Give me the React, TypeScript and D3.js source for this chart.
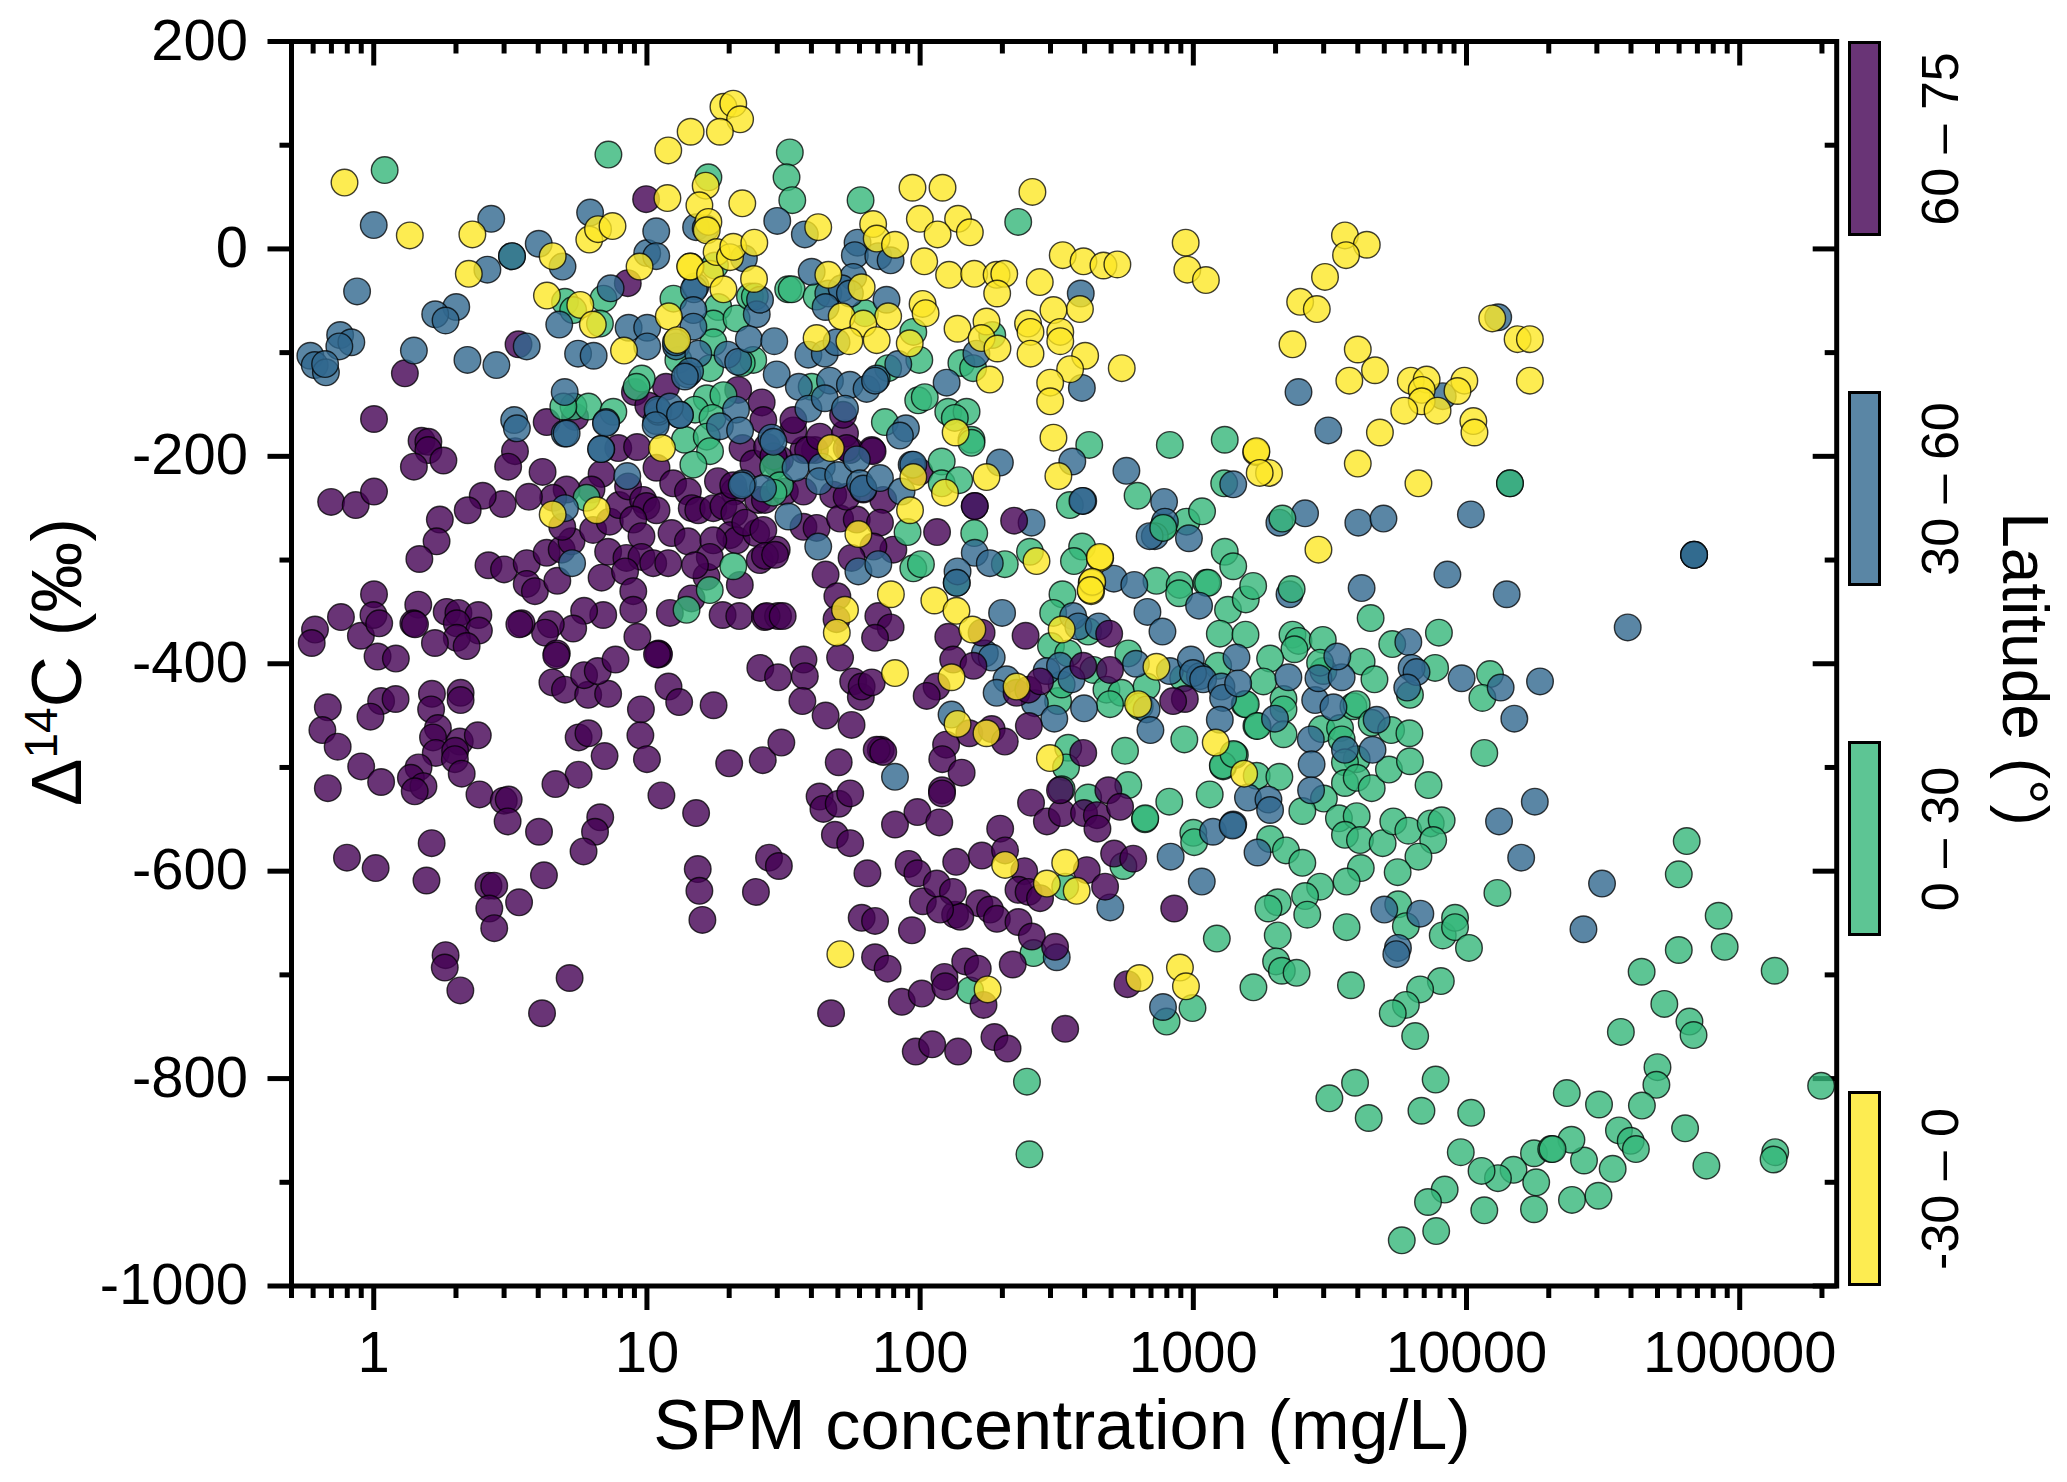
import React from "react";
import * as d3 from "d3";

// Every point: [log10 of SPM concentration (mg/L), Δ14C (‰)]
type P = [number, number];

const purpleWest: P[] = [
[.114,-120],[.53,-92],[.001,-164],[.175,-185],[.2,-186],[.2,-194],[.147,-210],[.255,-204],[-.156,-244],[-.066,-247],[.001,-234],[.242,-261],[.23,-282],[.167,-299],
[.42,-305],[.477,-309],[.56,-303],[.633,-293],[.688,-290],[.724,-282],[.56,-323],[.59,-330],[.672,-320],[.517,-195],[.492,-210],[.618,-215],[.633,-167],[.737,-162],
[1.07,-133],[.956,-138],[.93,-33],[.997,48],[1.005,-151],[1.334,-136],[1.42,-148],[1.426,-165],[.895,-192],[.964,-191],[1.035,-211],[1.096,-226],[1.15,-234],[1.26,-224],[1.32,-234],[1.35,-192],[1.39,-207],[1.44,-191],[1.475,-207],
[.834,-217],[.797,-232],[.706,-232],[.657,-240],[.568,-239],[.472,-246],[.399,-238],[.344,-252],[.69,-268],[.803,-271],[.864,-263],[.898,-247],[.931,-229],[.986,-242],[.998,-248],[1.035,-252],[.95,-261],
[.98,-277],[.858,-292],[.925,-298],[.98,-297],[1.023,-303],[1.078,-303],[.834,-317],[.92,-311],[.95,-330],[.95,-348],[1.09,-274],[1.15,-282],[1.164,-250],[1.188,-252],[1.243,-250],[1.28,-248],[1.32,-255],[1.304,-276],[1.328,-281],[1.4,-274],[1.243,-281],[1.36,-264],[1.413,-300],[1.475,-290],[1.218,-316],[1.23,-297],[1.176,-305],[1.34,-324],[1.163,-337],[1.407,-242],
[1.084,-351],[1.277,-353],[1.338,-354],[1.432,-355],[1.48,-354],[.84,-353],[.77,-349],[.73,-366],[.648,-362],[.627,-370],[.541,-361],[.533,-362],[.965,-374],[1.042,-390],[.67,-390],
[-.215,-367],[-.227,-380],[-.12,-355],[-.047,-373],[.001,-333],[-.001,-353],[.02,-361],[.163,-343],[.145,-361],[.151,-362],[.267,-350],[.31,-351],[.383,-353],[.304,-361],[.385,-368],[.304,-375],[.224,-380],[.34,-383],
[.014,-393],[.081,-395],[-.168,-442],[-.188,-464],[-.132,-480],[-.046,-499],[.027,-514],[-.168,-520],[.027,-436],[.08,-434],[-.012,-451],[.213,-429],[.21,-444],[.318,-428],[.318,-435],
[.235,-462],[.217,-471],[.227,-486],[.315,-475],[.381,-469],[.298,-484],[.297,-492],[.322,-506],[.164,-500],[.136,-510],[.182,-518],[.15,-523],[.387,-526],[.476,-532],[.494,-531],[.49,-552],[.605,-562],
[.829,-548],[.81,-562],[.768,-581],[-.098,-587],[.007,-597],[.212,-573],[.193,-609],[.42,-614],[.441,-614],[.623,-604],[.532,-630],[.423,-636],[.441,-655],[.263,-681],[.26,-693],[.317,-715],[.717,-703],[.616,-737],
[.654,-418],[.7,-425],[.785,-430],[.858,-429],[.77,-411],[.82,-407],[.885,-396],[.668,-392],[.75,-471],[.786,-467],[.845,-489],[.75,-507],[.665,-516],[.978,-444],[.976,-469],[1.0,-492],[1.079,-422],[1.118,-437],[1.244,-440],[1.044,-391],[1.037,-391],
[1.053,-527],[1.18,-544],[1.186,-598],[1.192,-619],[1.203,-647],[1.301,-496],[1.424,-493],[1.492,-476],[1.447,-587],[1.483,-595],[1.399,-620],[1.415,-404],[1.48,-413],[1.573,-396],[1.578,-412],[1.569,-436],[1.654,-450],[1.749,-459],[1.702,-495],[1.755,-417],[1.783,-432],[1.786,-422],
[1.632,-528],[1.646,-540],[1.702,-535],[1.744,-525],[1.688,-565],[1.744,-573],[1.807,-602],[1.786,-645],[1.835,-683],[1.674,-737],[1.835,-648],[1.856,-483],
[1.487,-203],[1.432,-242],[1.505,-234],[1.573,-234],[1.615,-194],[1.682,-237],[1.573,-268],[1.621,-269],[1.707,-260],[1.768,-261],[1.823,-194],[1.865,-242],[1.853,-264],[1.902,-290],[1.829,-287],[1.749,-298],[1.426,-271],[1.432,-296],[1.469,-295],[1.743,-194],[1.573,-194],[1.463,-200],[1.731,-239],[1.792,-232],[1.997,-215],
[1.654,-314],[1.697,-335],[1.694,-357],[1.847,-354],[1.892,-365],[1.835,-375],[1.438,-354],[1.497,-354],[1.707,-394],[1.823,-418],[1.841,-483],[1.865,-485],[1.908,-555],[1.99,-543],[1.958,-593],[1.99,-602],[1.97,-657],[1.881,-694],[1.933,-726],[1.984,-774],
[1.536,-175],[1.536,-165],[1.59,-194],[1.633,-181],[1.725,-178],[1.731,-192],[1.826,-195],[1.718,-160],[1.316,-228],
];

const green: P[] = [
[.04,76],[.859,91],[1.225,69],[1.523,93],[1.511,69],[1.532,47],[1.782,47],[2.359,26],[1.249,-16],[1.517,-39],[1.53,-39],[1.621,-46],[.841,-48],[.7,-51],[.73,-59],[.828,-72],[1.097,-48],[1.261,-56],[1.243,-72],[1.328,-67],[1.377,-46],[1.395,-46],[1.798,-62],[1.975,-80],[2.264,-83],[2.151,-110],[2.194,-115],[1.997,-107],[1.993,-146],[2.017,-143],[1.871,-167],[2.103,-157],[2.17,-157],[2.127,-163],[2.188,-184],
[1.243,-90],[1.115,-107],[1.231,-115],[1.389,-107],[1.347,-110],[.981,-125],[.962,-133],[1.219,-144],[1.28,-141],[1.176,-155],[1.24,-163],[1.139,-184],[1.219,-181],[1.231,-195],[1.17,-208],[.731,-152],[.786,-152],[.877,-157],[.694,-152],[1.883,-115],[1.603,-133],[.506,-7],[.779,-240],[1.23,-329],[1.316,-306],[1.145,-348],
[1.462,-210],[1.487,-228],[1.463,-235],[2.079,-205],[2.079,-226],[2.143,-223],[2.188,-187],[2.198,-274],[2.134,-322],[2.31,-304],[2.402,-292],[2.548,-247],[2.619,-189],[2.796,-238],[2.914,-189],[2.89,-268],[2.975,-263],[3.032,-253],[3.113,-226],[3.115,-184],[3.115,-292],[3.146,-306],[1.954,-273],[1.975,-308],[2.003,-304],[2.593,-287],[2.563,-301],[2.521,-333],[2.487,-351],[2.865,-320],[2.95,-324],[2.948,-332],[3.048,-322],[3.054,-322],[3.127,-348],[3.192,-338],[3.219,-325],[3.097,-371],[3.191,-372],
[2.479,-383],[2.542,-390],[2.615,-369],[2.505,-436],[2.518,-420],[2.634,-406],[2.682,-425],[2.737,-428],[2.695,-439],[2.762,-390],[2.829,-422],[2.804,-441],[2.963,-414],[3.091,-402],[3.188,-439],[3.231,-460],[2.967,-473],[2.75,-484],[2.542,-481],[2.534,-500],[2.518,-521],[2.762,-517],[2.615,-529],[2.823,-550],[2.912,-533],[3.06,-526],[3.109,-499],[3.152,-488],[3.0,-563],
[3.649,-356],[3.728,-381],[3.899,-370],[3.363,-372],[3.385,-378],[3.37,-386],[3.474,-377],[3.281,-395],[3.616,-398],[3.663,-415],[3.476,-407],[3.464,-399],[3.885,-404],[3.793,-430],[4.086,-410],[4.058,-433],[3.256,-417],[3.192,-439],[3.33,-434],[3.33,-444],[3.235,-460],[3.33,-468],[3.47,-463],[3.537,-462],[3.543,-473],[3.586,-441],[3.598,-439],[3.653,-457],[3.724,-464],[3.791,-467],[3.598,-492],[3.555,-495],[3.555,-515],[3.598,-510],[3.653,-520],[3.716,-502],[3.793,-494],[3.861,-517],[4.065,-486],
[3.478,-530],[3.399,-542],[3.533,-549],[3.598,-547],[3.555,-565],[3.61,-570],[3.693,-573],[3.732,-552],[3.787,-561],[3.869,-554],[3.909,-551],[3.878,-570],[3.824,-586],[3.748,-601],[3.613,-597],[3.561,-610],[4.113,-621],[3.281,-569],[3.339,-580],[3.399,-592],[3.003,-572],[2.824,-549],[3.232,-508],[3.315,-509],[3.108,-498],[3.147,-487],[3.464,-615],[3.409,-624],[3.417,-642],[3.309,-630],[3.275,-636],[3.561,-654],[3.75,-632],[3.778,-653],[3.913,-662],[3.958,-645],[3.958,-654],[4.009,-674],[3.086,-665],[3.309,-662],[3.303,-687],[3.324,-696],[3.378,-698],[3.22,-712],[3.577,-710],[3.906,-706],[3.83,-714],
[4.806,-571],[4.777,-603],[4.923,-643],[4.945,-673],[4.777,-676],[5.128,-696],[4.641,-697],[3.778,-729],[3.73,-737],[3.812,-759],[4.724,-728],[4.816,-745],[4.831,-758],[4.565,-755],[4.699,-789],[4.695,-806],[4.367,-814],[4.485,-825],[4.642,-826],[5.298,-807],[4.8,-848],[4.558,-850],[4.601,-860],[4.62,-868],[5.13,-871],[5.124,-878],[4.878,-884],[4.43,-879],[4.535,-887],[4.384,-859],[4.247,-872],[4.31,-868],[4.315,-868],[4.172,-888],[4.115,-896],[4.055,-889],[3.979,-871],[4.255,-900],[4.483,-913],[4.386,-917],[4.247,-926],[4.065,-927],[3.92,-907],[3.859,-919],[3.889,-947],[3.763,-956],
[3.592,-804],[3.498,-819],[3.642,-838],[3.887,-801],[3.835,-831],[4.017,-833],[2.391,-803],[2.4,-873],[2.415,-679],[2.183,-715],[2.531,-615],[2.744,-595],[2.902,-745],[2.997,-732],[4.833,-295],
];

const blue: P[] = [
[0,23],[.43,29],[.416,-20],[.506,-7],[.604,5],[.691,-17],[.792,35],[1.001,-4],[1.034,17],[1.034,-7],[-.061,-41],[.302,-56],[.225,-63],[.263,-69],[-.123,-83],[-.082,-90],[-.126,-94],[-.232,-103],[-.216,-112],[-.175,-119],[-.178,-111],[.147,-98],[.343,-107],[.449,-112],[.56,-94],[.679,-73],[.933,-76],[1.001,-76],[1.001,-94],[.748,-101],[.805,-103],[.867,-38],[.699,-138],[.514,-165],[.524,-173],[.699,-178],[.851,-167],[.833,-193],[1.034,-166],[1.12,-160],[1.042,-157],[1.178,-36],[1.18,21],[1.107,-94],[1.148,-121],[.928,-219],[.726,-303],[.7,-250],[1.352,-226],[1.425,-231],
[1.215,20],[1.477,27],[1.578,14],[1.771,6],[1.761,-6],[1.847,-7],[1.892,-11],[1.603,-22],[1.755,-27],[1.877,-49],[1.355,-9],[1.172,-39],[1.17,-59],[1.17,-75],[1.664,-43],[1.713,-38],[1.743,-43],[1.654,-56],[1.402,-63],[1.414,-49],[1.106,-90],[1.188,-101],[1.295,-102],[1.334,-109],[1.373,-87],[1.466,-89],[1.591,-102],[1.651,-101],[1.694,-90],[1.475,-121],[1.556,-133],[1.67,-127],[1.743,-131],[1.804,-135],[1.841,-125],[1.835,-127],[1.92,-111],[1.158,-118],[1.139,-123],[2.097,-129],[2.206,-101],
[1.591,-154],[1.651,-144],[1.725,-154],[1.039,-155],[1.084,-152],[1.121,-160],[1.032,-170],[.85,-168],[.706,-178],[1.326,-155],[1.267,-171],[1.341,-175],[1.456,-182],[1.948,-173],[1.926,-180],[.832,-193],[1.347,-228],
[1.544,-211],[1.64,-210],[1.631,-224],[1.7,-218],[1.768,-203],[1.78,-226],[1.792,-231],[1.853,-221],[1.463,-186],[1.932,-234],[1.518,-258],[1.627,-287],[1.774,-311],[1.847,-304],[1.969,-208],[1.975,-208],[2.292,-206],[2.2,-248],[2.2,-293],[2.255,-303],[2.137,-311],[2.134,-322],[2.557,-205],[2.597,-243],[2.408,-264],[2.3,-351],[2.755,-214],[2.893,-244],[2.896,-263],[2.859,-277],[2.84,-277],[2.984,-279],[3.146,-227],[2.709,-318],[2.784,-324],[2.832,-350],[2.887,-369],[3.021,-344],[2.56,-354],[2.579,-364],[2.654,-364],[2.237,-390],[2.262,-394],[2.316,-415],[2.28,-428],[2.463,-407],[2.512,-402],[2.554,-415],[2.42,-438],[2.491,-453],[2.6,-443],[2.79,-400],[2.914,-407],[2.829,-444],[2.843,-464],[2.991,-396],[3.158,-394],[3.024,-412],[2.999,-409],[3.036,-415],[3.103,-422],[3.109,-433],[3.097,-454],[3.164,-419],[2.115,-449],[1.908,-509],[3.2,-529],[3.072,-562],[3.146,-555],
[3.348,-413],[3.299,-453],[3.446,-435],[3.458,-414],[3.543,-413],[3.527,-393],[3.513,-442],[3.43,-473],[3.433,-497],[3.656,-483],[3.555,-483],[3.671,-454],[3.431,-522],[3.275,-531],[3.281,-541],[3.144,-556],[3.235,-582],[2.917,-586],[3.031,-610],[2.696,-635],[2.5,-683],[2.889,-731],[3.787,-379],[3.799,-404],[3.817,-408],[3.783,-423],[3.982,-414],[4.125,-423],[4.175,-453],[4.269,-417],[4.25,-533],[4.119,-552],[4.2,-587],[3.699,-637],[3.831,-641],[3.749,-674],[3.743,-680],
[2.588,-43],[2.592,-134],[3.385,-138],[3.913,-142],[4.116,-66],[3.494,-175],[2.594,-243],[3.315,-264],[3.409,-255],[3.604,-264],[3.696,-260],[4.159,-226],[4.016,-256],[3.93,-314],[4.147,-333],[3.616,-327],[3.352,-333],[4.833,-295],[4.833,-295],[4.59,-365],[4.496,-612],[4.428,-656],
];

const purpleEast: P[] = [
[2.062,-273],[2.2,-248],[2.344,-262],[2.103,-374],[2.225,-370],[2.121,-396],[2.195,-402],[2.06,-422],[2.024,-431],[2.18,-467],[2.262,-463],[2.31,-475],[2.386,-373],[2.353,-428],[2.396,-425],[2.439,-417],[2.597,-402],[2.695,-406],[2.692,-371],[2.398,-460],[2.969,-434],[2.926,-436],[2.597,-486],[2.095,-478],[2.081,-492],[2.152,-505],
[2.07,-553],[2.08,-522],[2.08,-525],[2.132,-591],[2.226,-585],[2.293,-559],[2.311,-580],[2.381,-600],[2.36,-618],[2.397,-620],[2.439,-626],[2.217,-631],[2.256,-637],[2.281,-646],[2.128,-642],[2.147,-644],[2.36,-649],[2.409,-663],[2.494,-673],[2.01,-629],[2.061,-612],[2.12,-620],[2.073,-637],[2.006,-718],[2.089,-702],[2.092,-711],[2.165,-687],[2.211,-694],[2.232,-729],[2.339,-690],[2.044,-767],[2.139,-774],[2.272,-760],[2.32,-771],[2.531,-752],
[2.406,-534],[2.464,-552],[2.519,-544],[2.6,-544],[2.647,-546],[2.649,-559],[2.512,-522],[2.689,-522],[2.732,-538],[2.61,-599],[2.677,-615],[2.71,-583],[2.78,-588],[2.759,-709],[2.93,-636],
];

// Green circles that lie over a blue neighbour
const greenOverBlue: P[] = [
[4.159,-226],[3.36,-328],[3.326,-260],[2.89,-269],
];

const yellow: P[] = [
[-.107,64],[.132,13],[.361,14],[.348,-24],[.655,-7],[.634,-45],[.756,-54],[.802,-73],[.789,9],[.821,19],[.874,22],[.916,-98],[1.075,49],[1.078,95],[1.16,113],[.973,-17],[1.08,-65],[1.111,-88],[1.055,-192],[1.16,-17],[.655,-256],[.816,-252],
[1.28,137],[1.316,140],[1.341,125],[1.267,113],[1.215,61],[1.192,42],[1.349,44],[1.225,26],[1.219,18],[1.158,-17],[1.231,-24],[1.255,-3],[1.304,-8],[1.316,2],[1.393,6],[1.392,-29],[1.28,-39],
[1.972,59],[2.082,59],[2.411,55],[1.999,29],[2.139,29],[2.064,14],[2.182,16],[1.627,21],[1.828,24],[1.841,10],[1.908,4],[2.015,-12],[2.106,-25],[2.198,-24],[2.28,-25],[2.308,-24],[2.282,-43],[2.438,-32],[1.664,-25],[1.786,-37],
[2.009,-53],[2.02,-62],[1.883,-65],[1.713,-65],[1.792,-72],[1.841,-88],[1.741,-89],[1.621,-86],[1.962,-91],[2.137,-77],[2.243,-70],[2.225,-86],[2.283,-96],[2.395,-72],[2.404,-80],[2.404,-101],[2.255,-126],[2.13,-177],
[2.522,-6],[2.598,-12],[2.671,-16],[2.722,-15],[2.972,6],[2.978,-20],[3.046,-30],[3.555,13],[3.635,4],[3.559,-6],[3.482,-27],[3.391,-51],[3.452,-58],[3.363,-92],[3.602,-97],[3.665,-117],[3.571,-127],[3.796,-127],[3.854,-126],[3.836,-136],[3.836,-147],[3.772,-156],[3.894,-156],[3.992,-127],[3.967,-137],[4.094,-67],[4.187,-87],[4.232,-87],[4.232,-127],[4.025,-166],[4.029,-177],[3.683,-177],[3.602,-207],[3.23,-196],[3.277,-216],[3.458,-290],[3.824,-226],[2.659,-298],[2.628,-322],[2.626,-330],[2.506,-219],[2.488,-182],[2.585,-58],[2.488,-59],[2.513,-80],[2.513,-89],[2.604,-103],[2.549,-116],[2.738,-115],[2.476,-129],[2.476,-147],
[1.673,-192],[1.774,-275],[1.975,-220],[1.963,-252],[2.243,-220],[2.091,-235],[1.893,-333],[1.725,-348],[1.695,-370],[2.052,-339],[2.133,-349],[2.191,-367],[1.908,-409],[2.115,-413],[2.137,-458],[2.243,-467],[2.353,-422],[3.231,-195],[3.243,-216],[2.426,-301],[2.658,-297],[2.63,-321],[2.624,-329],[2.518,-367],[2.865,-403],[2.798,-439],[3.082,-476],[3.186,-506],[2.475,-491],
[1.708,-680],[2.311,-594],[2.464,-612],[2.531,-592],[2.573,-619],[2.247,-714],[2.803,-703],[2.951,-693],[2.973,-711],
];

const VIRIDIS = { purple: "#440154", blue: "#31688e", green: "#35b779", yellow: "#fde725" };
const layers: [P[], string][] = [
  [purpleWest, VIRIDIS.purple],
  [green, VIRIDIS.green],
  [blue, VIRIDIS.blue],
  [greenOverBlue, VIRIDIS.green],
  [purpleEast, VIRIDIS.purple],
  [yellow, VIRIDIS.yellow],
];
const legendLabels = ["60 – 75", "30 – 60", "0 – 30", "-30 – 0"];
const legendColors = [VIRIDIS.purple, VIRIDIS.blue, VIRIDIS.green, VIRIDIS.yellow];
const xMajor = [1, 10, 100, 1000, 10000, 100000];
const yMajor = [200, 0, -200, -400, -600, -800, -1000];
const yMinor = [100, -100, -300, -500, -700, -900];

const FONT = "'Liberation Sans', Arial, sans-serif";
const L = 291.5, R = 1836.7, T = 41.5, B = 1286;
const x = d3.scaleLog().domain([0.5, Math.pow(10, 5.355)]).range([L, R]);
const y = d3.scaleLinear().domain([-1000, 200]).range([B, T]);
const xMinor: number[] = [];
for (let e = -1; e <= 5; e++) for (let m = 2; m <= 9; m++) {
  const v = m * Math.pow(10, e);
  if (v >= 0.5 && v <= 226000) xMinor.push(v);
}

export default function App() {
  return (
    <svg width={2067} height={1482} viewBox="0 0 2067 1482" style={{ position: "absolute", left: 0, top: 0, background: "#fff" }} fontFamily={FONT}>
      <g stroke="#000" strokeWidth={5} fill="none">
        <rect x={L} y={T} width={R - L} height={B - T} />
        {xMajor.map(v => <g key={v}>
          <line x1={x(v)} x2={x(v)} y1={T} y2={T + 24} />
          <line x1={x(v)} x2={x(v)} y1={B} y2={B + 24} />
        </g>)}
        {xMinor.map(v => <g key={v}>
          {v > 0.5 && <line x1={x(v)} x2={x(v)} y1={T} y2={T + 12} />}
          <line x1={x(v)} x2={x(v)} y1={B} y2={B + 12} />
        </g>)}
        {yMajor.map(v => <g key={v}>
          <line x1={L - 24} x2={L} y1={y(v)} y2={y(v)} />
          <line x1={R - 24} x2={R} y1={y(v)} y2={y(v)} />
        </g>)}
        {yMinor.map(v => <g key={v}>
          <line x1={L - 12} x2={L} y1={y(v)} y2={y(v)} />
          <line x1={R - 12} x2={R} y1={y(v)} y2={y(v)} />
        </g>)}
      </g>
      {layers.map(([pts, c], i) => (
        <g key={i} fill={c} fillOpacity={0.8} stroke="#000" strokeOpacity={0.75} strokeWidth={1.4}>
          {pts.map((p, j) => <circle key={j} cx={x(Math.pow(10, p[0]))} cy={y(p[1])} r={13.3} />)}
        </g>
      ))}
      <g fontSize={58} fill="#000">
        {yMajor.map(v => <text key={v} x={248} y={y(v) + 18} textAnchor="end">{v}</text>)}
        {xMajor.map(v => <text key={v} x={x(v)} y={1372} textAnchor="middle">{v}</text>)}
      </g>
      <text x={1062} y={1449} fontSize={70.4} textAnchor="middle">SPM concentration (mg/L)</text>
      <text transform="translate(81,662) rotate(-90)" fontSize={71} textAnchor="middle">
        Δ<tspan fontSize={46} dy={-24}>14</tspan><tspan dy={24}>C (‰)</tspan>
      </text>
      <text transform="translate(2003,669) rotate(90)" fontSize={64} textAnchor="middle">Latitude (°)</text>
      {legendLabels.map((t, i) => {
        const top = 41 + i * 350;
        return <g key={t}>
          <rect x={1849.5} y={top + 1.5} width={30} height={192} fill={legendColors[i]} fillOpacity={0.8} stroke="#000" strokeWidth={3} />
          <text transform={`translate(1958,${top + 98}) rotate(-90)`} fontSize={52} textAnchor="middle">{t}</text>
        </g>;
      })}
    </svg>
  );
}
